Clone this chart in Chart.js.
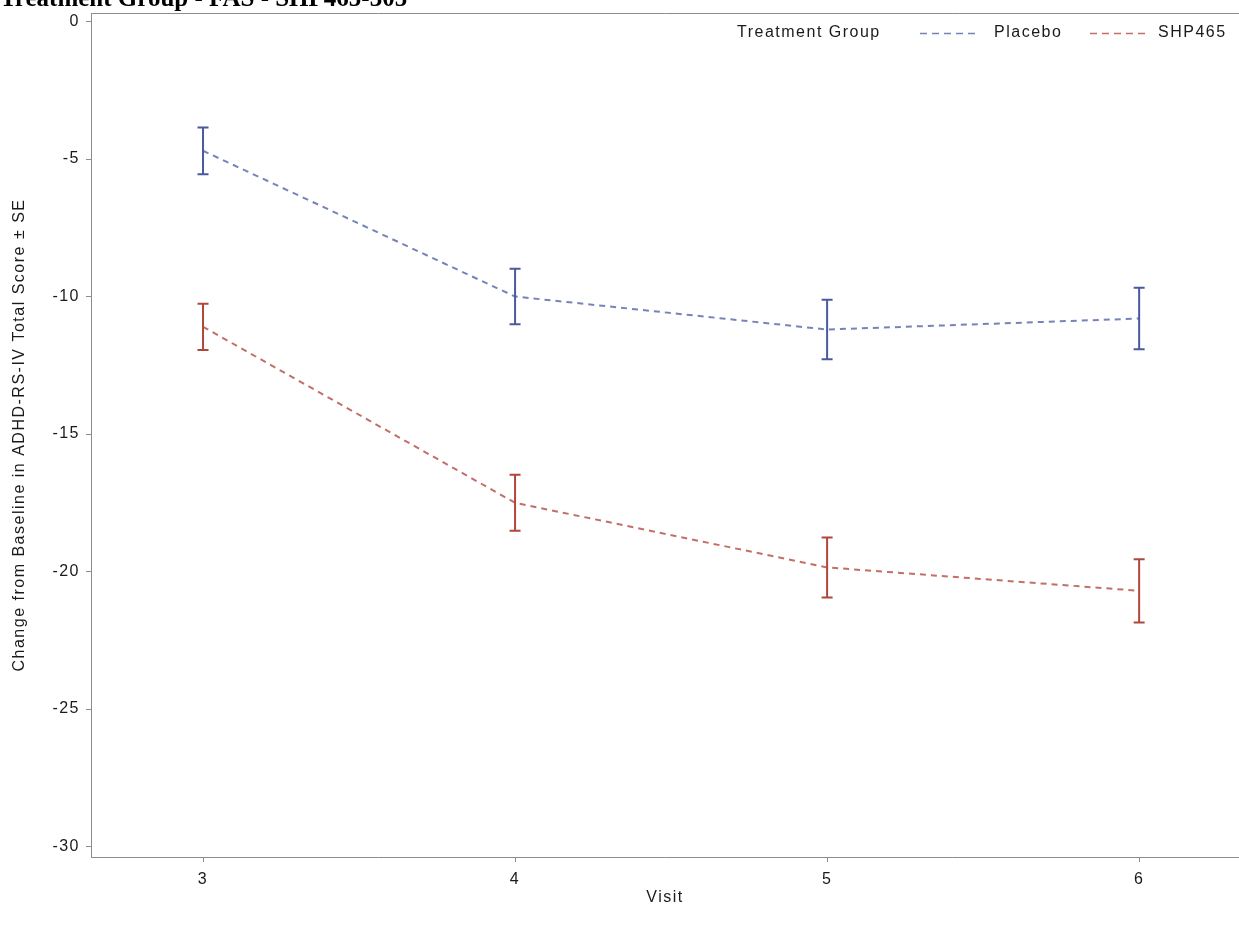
<!DOCTYPE html>
<html>
<head>
<meta charset="utf-8">
<script src="https://cdn.jsdelivr.net/npm/chart.js@4.4.0/dist/chart.umd.min.js"></script>
<style>
  html, body { margin: 0; padding: 0; background: #fff; }
  #wrap { width: 1239px; height: 933px; position: relative; }
</style>
</head>
<body>
<div id="wrap"><canvas id="myChart"></canvas></div>
<script>
// data
var visits = [3, 4, 5, 6];
var yTicks = [0, -5, -10, -15, -20, -25, -30];
var placeboMean = [-4.7, -10.0, -11.2, -10.8];
var placeboSE = [0.85, 1.01, 1.08, 1.12];
var shpMean = [-11.1, -17.5, -19.85, -20.7];
var shpSE = [0.84, 1.02, 1.09, 1.15];

var chartTitle = 'Treatment Group - FAS - SHP465-305';
var legendTitle = 'Treatment Group';
var yTitle = 'Change from Baseline in ADHD-RS-IV Total Score \u00b1 SE';
var xTitle = 'Visit';

var FONT = '"Liberation Sans", Arial, sans-serif';
var AXIS = '#8c8c8c';
var TEXT = '#1a1a1a';
var SPACING = '1.5px';

function toPoints(means) {
  return visits.map(function (v, i) { return { x: v, y: means[i] }; });
}

var data = {
  datasets: [{
    label: 'Placebo',
    data: toPoints(placeboMean),
    se: placeboSE,
    barColor: '#4a5a9e',
    borderColor: 'rgba(74, 90, 158, 0.75)',
    borderWidth: 2,
    borderDash: [6, 5],
    pointRadius: 0,
    fill: false
  }, {
    label: 'SHP465',
    data: toPoints(shpMean),
    se: shpSE,
    barColor: '#b0473c',
    borderColor: 'rgba(176, 71, 60, 0.78)',
    borderWidth: 2,
    borderDash: [6, 5],
    pointRadius: 0,
    fill: false
  }]
};

// SAS-style wide text spacing
var spacing = {
  id: 'spacing',
  beforeDraw: function (chart) { chart.ctx.letterSpacing = SPACING; }
};

// error bars, drawn through the chart scales
var errorBars = {
  id: 'errorBars',
  afterDatasetsDraw: function (chart) {
    var ctx = chart.ctx;
    var xs = chart.scales.x, ys = chart.scales.y;
    ctx.save();
    chart.data.datasets.forEach(function (ds) {
      ctx.strokeStyle = ds.barColor;
      ctx.lineWidth = 2;
      ds.data.forEach(function (p, i) {
        var px = xs.getPixelForValue(p.x);
        var top = ys.getPixelForValue(p.y + ds.se[i]);
        var bot = ys.getPixelForValue(p.y - ds.se[i]);
        ctx.beginPath();
        ctx.moveTo(px, top); ctx.lineTo(px, bot);
        ctx.moveTo(px - 5.5, top); ctx.lineTo(px + 5.5, top);
        ctx.moveTo(px - 5.5, bot); ctx.lineTo(px + 5.5, bot);
        ctx.stroke();
      });
    });
    ctx.restore();
  }
};

// frame, cut-off title and the inset legend
var decorations = {
  id: 'decorations',
  afterDraw: function (chart) {
    var ctx = chart.ctx;
    var a = chart.chartArea;
    ctx.save();
    ctx.strokeStyle = AXIS;
    ctx.lineWidth = 1;
    ctx.beginPath();
    ctx.moveTo(a.left + 0.5, a.bottom + 0.5);
    ctx.lineTo(a.left + 0.5, a.top + 0.5);
    ctx.lineTo(a.right, a.top + 0.5);
    ctx.stroke();

    ctx.letterSpacing = '0px';
    ctx.fillStyle = '#000';
    ctx.font = 'bold 25px "Liberation Serif", "Times New Roman", serif';
    ctx.textBaseline = 'alphabetic';
    ctx.textAlign = 'left';
    ctx.fillText(chartTitle, 0, 6);

    ctx.letterSpacing = SPACING;
    ctx.font = '16px ' + FONT;
    ctx.textBaseline = 'middle';
    ctx.fillStyle = TEXT;
    var y = 33;
    ctx.fillText(legendTitle, 737, y);
    var lineX = [920, 1090], textX = [994, 1158];
    chart.data.datasets.forEach(function (ds, i) {
      ctx.strokeStyle = ds.borderColor;
      ctx.lineWidth = 1.5;
      ctx.setLineDash([7, 5]);
      ctx.beginPath();
      ctx.moveTo(lineX[i], y + 0.5); ctx.lineTo(lineX[i] + 58, y + 0.5);
      ctx.stroke();
      ctx.setLineDash([]);
      ctx.fillText(ds.label, textX[i], y);
    });
    ctx.restore();
  }
};

var config = {
  type: 'line',
  data: data,
  plugins: [spacing, errorBars, decorations],
  options: {
    responsive: true,
    maintainAspectRatio: false,
    animation: false,
    layout: { padding: { top: 13, right: 0, left: 0, bottom: 0 } },
    plugins: {
      legend: { display: false },
      tooltip: { enabled: false }
    },
    scales: {
      x: {
        type: 'linear',
        min: 2.641,
        max: 6.32,
        afterBuildTicks: function (s) { s.ticks = visits.map(function (v) { return { value: v }; }); },
        afterFit: function (s) { s.height = 76; s.paddingLeft = 0; s.paddingRight = 0; },
        grid: { drawOnChartArea: false, tickLength: 5, color: AXIS },
        border: { color: AXIS },
        ticks: { color: TEXT, padding: 8, font: { family: FONT, size: 16 } },
        title: { display: true, text: xTitle, color: TEXT, padding: { top: 0, bottom: 26 }, font: { family: FONT, size: 16 } }
      },
      y: {
        min: -30.38,
        max: 0.31,
        afterBuildTicks: function (s) { s.ticks = yTicks.map(function (v) { return { value: v }; }); },
        afterFit: function (s) { s.width = 91; s.paddingTop = 0; s.paddingBottom = 0; },
        grid: { drawOnChartArea: false, tickLength: 5, color: AXIS },
        border: { color: AXIS },
        ticks: { color: TEXT, padding: 6, font: { family: FONT, size: 16 } },
        title: { display: true, text: yTitle, color: TEXT, padding: { top: 10, bottom: 0 }, font: { family: FONT, size: 16 } }
      }
    }
  }
};

var myChart = new Chart(document.getElementById('myChart'), config);
</script>
</body>
</html>
